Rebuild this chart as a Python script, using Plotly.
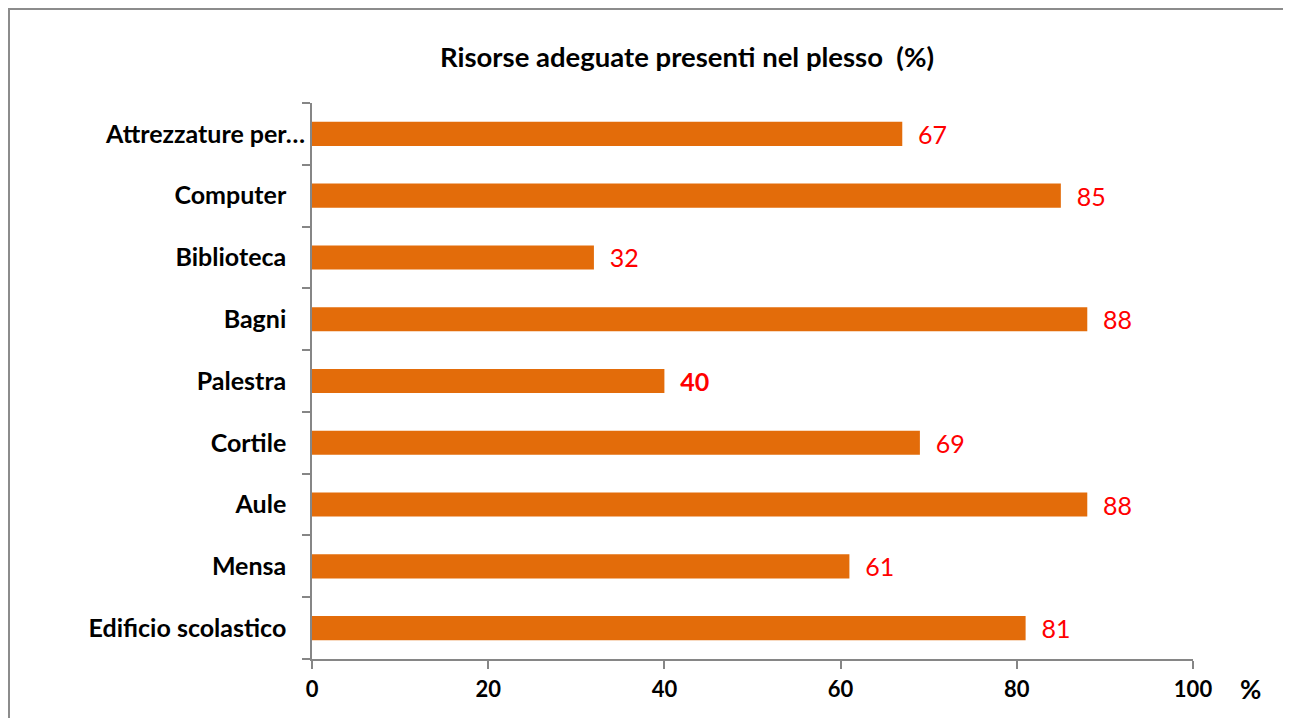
import plotly.graph_objects as go

# categories listed bottom-up (plotly draws first category at the bottom)
categories = ["Edificio scolastico", "Mensa", "Aule", "Cortile", "Palestra",
              "Bagni", "Biblioteca", "Computer", "Attrezzature per…"]
values = [81, 61, 88, 69, 40, 88, 32, 85, 67]
x_ticks = [0, 20, 40, 60, 80, 100]

W, H = 1291, 718
OFF = 8  # page body margin pushes the figure 8px right/down
L, R, T, B = 312 - OFF, 1193 - OFF, 103 - OFF, 659 - OFF   # plot area
pw, ph = R - L, B - T


def px_x(x):
    return (x - OFF - L) / pw


def px_y(y):
    return (B - (y - OFF)) / ph


# Excel keeps a trailing space on most labels
tick_text = [c if c.endswith("…") else c + "\u2002\u2005" for c in categories]

fig = go.Figure()
fig.add_trace(go.Bar(
    x=values,
    y=categories,
    orientation="h",
    marker=dict(color="#E36C0A", line=dict(width=0)),
    texttemplate="\u00a0\u00a0%{x}",
    textposition="outside",
    constraintext="none",
    textfont=dict(family="Lato", size=25, color="#FF0000"),
    cliponaxis=False,
    hoverinfo="skip",
))

fig.update_layout(
    width=W, height=H,
    margin=dict(l=L, r=W - R, t=T, b=H - B, pad=0),
    plot_bgcolor="white",
    paper_bgcolor="white",
    showlegend=False,
    bargap=0.61,
    title=dict(
        text="<b>Risorse adeguate presenti nel plesso  (%)</b>",
        x=(687 - OFF) / W, xanchor="center", xref="container",
        y=1 - (57 - OFF) / H, yanchor="middle", yref="container",
        font=dict(family="Lato", size=27.5, color="black"),
    ),
    xaxis=dict(
        range=[0, 100],
        tickvals=x_ticks,
        ticktext=[f"<b>{t}</b>" for t in x_ticks],
        showgrid=False, zeroline=False,
        showline=True, linecolor="#868686", linewidth=2,
        ticks="outside", ticklen=8, tickwidth=2, tickcolor="#868686",
        tickfont=dict(family="Lato", size=22, color="black"),
        ticklabelstandoff=2,
    ),
    yaxis=dict(
        tickvals=categories,
        ticktext=[f"<b>{t}</b>" for t in tick_text],
        tickson="boundaries",
        showgrid=False, zeroline=False,
        showline=True, linecolor="#868686", linewidth=2,
        ticks="outside", ticklen=8, tickwidth=2, tickcolor="#868686",
        tickfont=dict(family="Lato", size=25, color="black"),
        ticklabelstandoff=0,
    ),
    annotations=[dict(
        text="<b>%</b>", x=px_x(1250), y=px_y(689),
        xref="paper", yref="paper", xanchor="center", yanchor="middle",
        showarrow=False,
        font=dict(family="Lato", size=26, color="black"),
    )],
    shapes=[dict(
        type="rect", xref="paper", yref="paper",
        x0=px_x(OFF + 1), x1=px_x(1290), y0=px_y(740), y1=px_y(OFF + 1),
        line=dict(color="#8C8C8C", width=2), fillcolor="rgba(0,0,0,0)",
        layer="below",
    )],
)

fig.write_html("out.html")
